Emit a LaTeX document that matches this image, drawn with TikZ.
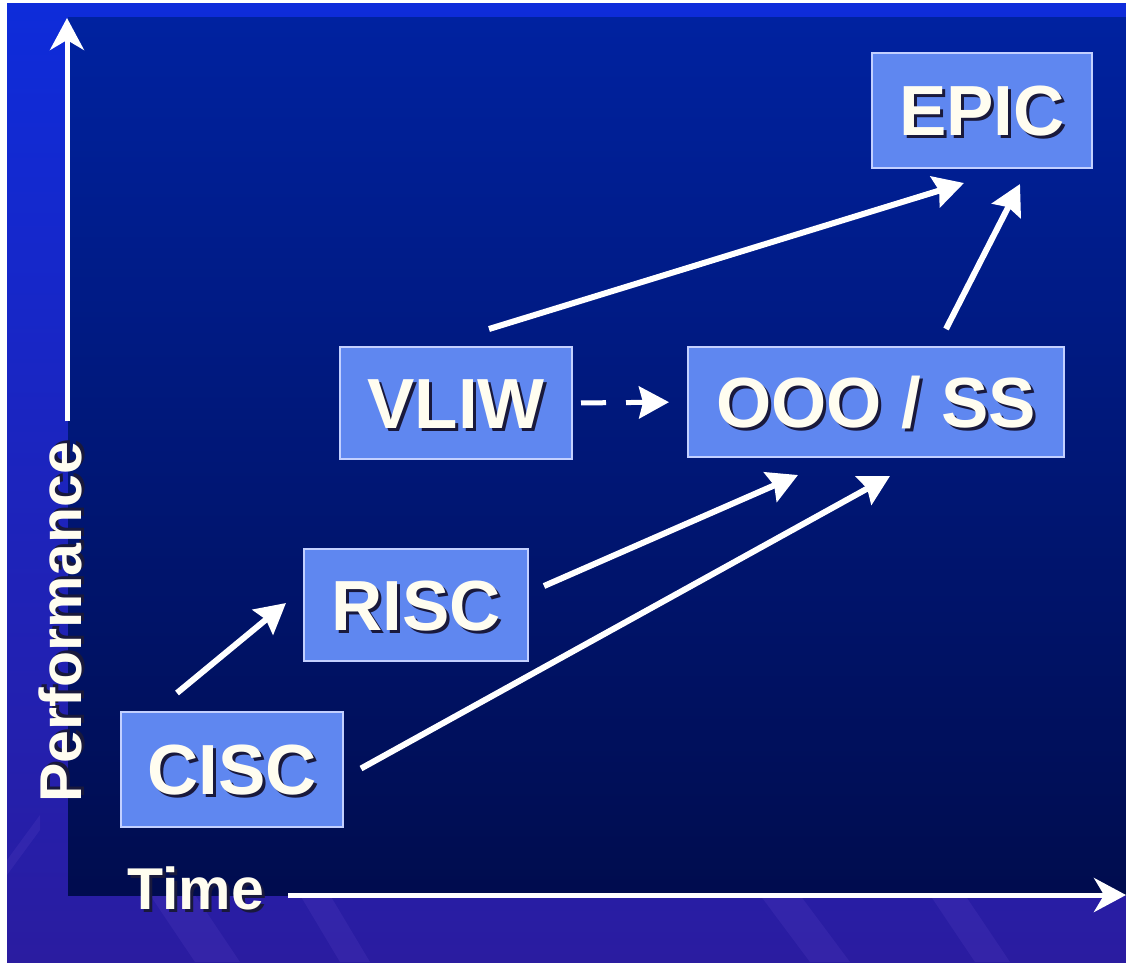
\documentclass[tikz,border=0pt]{standalone}
\usepackage{fontspec}
\setmainfont{Liberation Sans}
\usetikzlibrary{arrows.meta}
\definecolor{boxblue}{RGB}{95,135,240}
\definecolor{boxedge}{RGB}{195,208,255}
\definecolor{txtshadow}{RGB}{25,25,60}
\definecolor{txtwhite}{RGB}{255,253,240}
\definecolor{outtop}{RGB}{14,44,218}
\definecolor{outbot}{RGB}{42,28,160}
\definecolor{intop}{RGB}{0,34,160}
\definecolor{inmid}{RGB}{0,22,112}
\definecolor{inbot}{RGB}{0,12,78}
\definecolor{streak}{RGB}{95,70,200}
\newcommand{\shadowed}[1]{\rlap{\kern3pt\raisebox{-3pt}{\color{txtshadow}#1}}#1}

\begin{document}
\begin{tikzpicture}[x=1pt,y=-1pt,
  box/.style={draw=boxedge,line width=2pt,fill=boxblue,inner sep=0pt,text=txtwhite,
    text height=50pt,text depth=0pt,font=\fontsize{71}{71}\bfseries\selectfont},
  lbl/.style={inner sep=0pt,text=txtwhite,font=\fontsize{59}{59}\bfseries\selectfont},
  arr/.style={draw=white,line width=6pt,-{Stealth[length=30pt,width=32pt,inset=4pt]}},
  axis/.style={draw=white,line width=5pt,-{Stealth[length=32pt,width=34pt,inset=10pt]}},
  streakband/.style={fill=streak,opacity=0.2}]
\useasboundingbox (0,0) rectangle (1126,962);
\fill[white] (0,0) rectangle (1126,962);
\shade[top color=outtop,bottom color=outbot] (7,3) rectangle (1126,962);
\fill[streakband] (150,895) -- (195,895) -- (240,962) -- (195,962) -- cycle;
\fill[streakband] (300,895) -- (330,895) -- (370,962) -- (340,962) -- cycle;
\fill[streakband] (760,895) -- (800,895) -- (850,962) -- (810,962) -- cycle;
\fill[streakband] (930,895) -- (965,895) -- (1010,962) -- (975,962) -- cycle;
\fill[streakband] (7,860) -- (40,815) -- (40,830) -- (7,875) -- cycle;
\shade[top color=intop,middle color=inmid,bottom color=inbot] (68,17) rectangle (1126,895);

\node[box,minimum width=220pt,minimum height=115pt] (epic) at (982,110.5) {\shadowed{EPIC}};
\node[box,minimum width=232pt,minimum height=112pt] (vliw) at (456,403) {\shadowed{VLIW}};
\node[box,minimum width=376pt,minimum height=110pt] (ooo) at (876,402) {\shadowed{OOO / SS}};
\node[box,minimum width=224pt,minimum height=112pt] (risc) at (416,605) {\shadowed{RISC}};
\node[box,minimum width=222pt,minimum height=115pt] (cisc) at (232,769.5) {\shadowed{CISC}};

\node[lbl,rotate=90,anchor=base] (perf) at (81,622) {\shadowed{Performance}};
\node[lbl,anchor=base west] (time) at (127,909) {\shadowed{Time}};
\coordinate (ytip) at (67,18);
\coordinate (xtip) at (1126,895);
\draw[axis,shorten <=20pt] (perf.east -| ytip) -- (ytip);
\draw[axis,shorten <=24pt] (time.east |- xtip) -- (xtip);

\draw[arr] ([shift={(-55,-18)}]cisc.north) -- ([shift={(-17,-2)}]risc.west);
\draw[arr] ([shift={(17,-1)}]cisc.east) -- ([shift={(14,18)}]ooo.south);
\draw[arr] ([shift={(15,-19)}]risc.east) -- ([shift={(-78,17)}]ooo.south);
\draw[arr] ([shift={(33,-17)}]vliw.north) -- ([shift={(-18,14)}]epic.south);
\draw[arr] ([shift={(70,-17)}]ooo.north) -- ([shift={(38,15)}]epic.south);
\draw[arr,line width=5pt,dash pattern=on 25pt off 20pt,shorten <=8pt,shorten >=18pt] (vliw.east) -- (ooo.west);
\end{tikzpicture}
\end{document}
